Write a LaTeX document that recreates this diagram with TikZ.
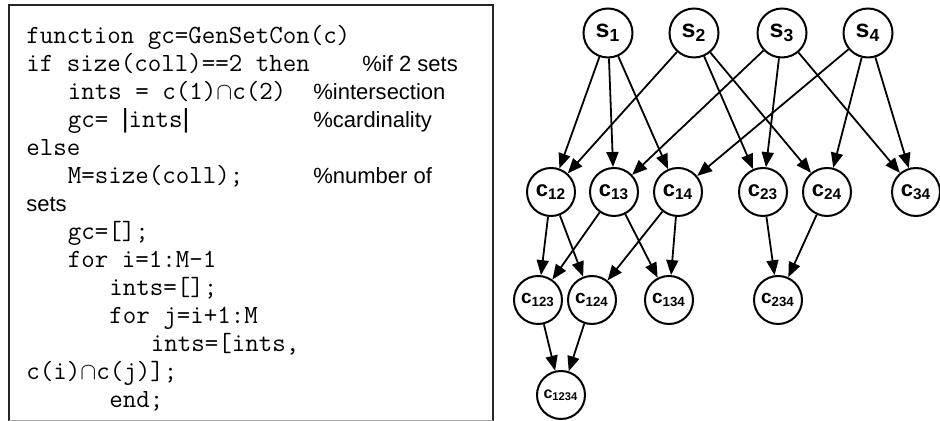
\documentclass[tikz,border=0pt]{standalone}
\usepackage{fontspec}
\setmainfont{Liberation Sans}
\usetikzlibrary{arrows.meta}

\begin{document}
\begin{tikzpicture}[x=0.5bp, y=-0.5bp,
  code/.style={anchor=base west, inner sep=0pt, font=\ttfamily\fontsize{13.1bp}{14bp}\selectfont},
  note/.style={anchor=base west, inner sep=0pt, font=\fontsize{11bp}{14bp}\selectfont},
  setnode/.style={circle, draw, line width=1bp, minimum size=24.5bp, inner sep=0pt,
    font=\bfseries\fontsize{12.5bp}{13bp}\selectfont},
  connode/.style={circle, draw, line width=1bp, minimum size=24bp, inner sep=0pt,
    font=\bfseries\fontsize{11bp}{12bp}\selectfont},
  con3/.style={connode, font=\bfseries\fontsize{9.5bp}{10bp}\selectfont},
  con4/.style={connode, font=\bfseries\fontsize{8bp}{9bp}\selectfont},
  arr/.style={line width=0.9bp, -{Triangle[length=7.5bp, width=6bp]}}]
\useasboundingbox (0,0) rectangle (940,421);

% code listing box
\draw[line width=1bp, black!85] (9,421) -- (9,5) -- (493,5) -- (493,421);
\draw[black!35] (9,420) -- (493,420);

\node[code] (l1) at (26,44) {function gc=GenSetCon(c)};
\node[code] (l2) at (26,72) {if size(coll)==2 then};
\node[note] (n2) at (362,72) {\%if 2 sets};
\node[code] (l3) at (67.5,100) {ints = c(1)$\cap$c(2)};
\node[note] (n3) at (313,100) {\%intersection};
\node[code] (l4) at (67.5,128) {gc= {\normalfont|}ints{\normalfont|}};
\node[note] (n4) at (313,128) {\%cardinality};
\node[code] (l5) at (26,156) {else};
\node[code] (l6) at (67.5,184) {M=size(coll);};
\node[note] (n6) at (313,184) {\%number of};
\node[note] (l7) at (26,212) {sets};
\node[code] (l8) at (67.5,240) {gc=[];};
\node[code] (l9) at (67.5,268) {for i=1:M-1};
\node[code] (l10) at (109,296) {ints=[];};
\node[code] (l11) at (109,324) {for j=i+1:M};
\node[code] (l12) at (150.5,352) {ints=[ints,};
\node[code] (l13) at (26,380) {c(i)$\cap$c(j)];};
\node[code] (l14) at (109,408) {end;};

% sets
\node[setnode] (s1) at (608,33) {s\textsubscript{1}};
\node[setnode] (s2) at (694,33) {s\textsubscript{2}};
\node[setnode] (s3) at (782,33) {s\textsubscript{3}};
\node[setnode] (s4) at (868,33) {s\textsubscript{4}};

% pairwise intersections
\node[connode] (c12) at (551,192) {c\textsubscript{12}};
\node[connode] (c13) at (614,192) {c\textsubscript{13}};
\node[connode] (c14) at (678,192) {c\textsubscript{14}};
\node[connode] (c23) at (763,192) {c\textsubscript{23}};
\node[connode] (c24) at (827,192) {c\textsubscript{24}};
\node[connode] (c34) at (916,192) {c\textsubscript{34}};

% triples
\node[con3] (c123) at (538,300) {c\textsubscript{123}};
\node[con3] (c124) at (592,300) {c\textsubscript{124}};
\node[con3] (c134) at (669,300) {c\textsubscript{134}};
\node[con3] (c234) at (778,300) {c\textsubscript{234}};

\node[con4] (c1234) at (561,395) {c\textsubscript{1234}};

\draw[arr] (s1) -- (c12);
\draw[arr] (s1) -- (c13);
\draw[arr] (s1) -- (c14);
\draw[arr] (s2) -- (c12);
\draw[arr] (s2) -- (c23);
\draw[arr] (s2) -- (c24);
\draw[arr] (s3) -- (c13);
\draw[arr] (s3) -- (c23);
\draw[arr] (s3) -- (c34);
\draw[arr] (s4) -- (c14);
\draw[arr] (s4) -- (c24);
\draw[arr] (s4) -- (c34);

\draw[arr] (c12) -- (c123);
\draw[arr] (c12) -- (c124);
\draw[arr] (c13) -- (c123);
\draw[arr] (c13) -- (c134);
\draw[arr] (c14) -- (c124);
\draw[arr] (c14) -- (c134);
\draw[arr] (c23) -- (c234);
\draw[arr] (c24) -- (c234);

\draw[arr] (c123) -- (c1234);
\draw[arr] (c124) -- (c1234);
\end{tikzpicture}
\end{document}
